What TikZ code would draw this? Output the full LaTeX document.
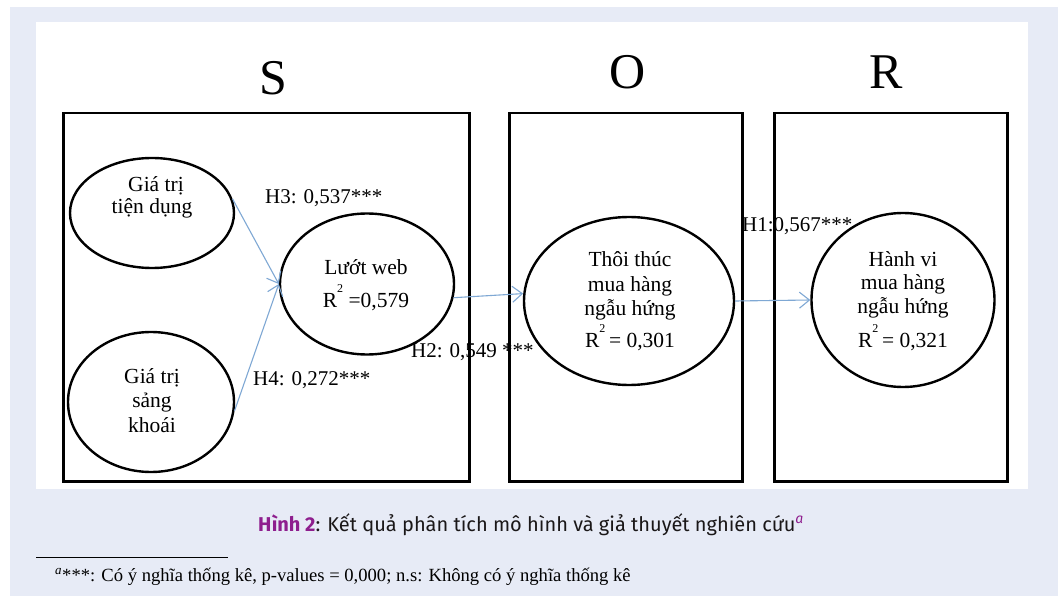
\documentclass[tikz,border=0pt]{standalone}
\usepackage{fontspec}
\setmainfont{Liberation Serif}
\newfontfamily\capfont{Fira Sans}
\usetikzlibrary{shapes.geometric,arrows.meta}
\definecolor{bgblue}{HTML}{E7EBF6}
\definecolor{arrowblue}{HTML}{7FA8D4}
\definecolor{capurple}{HTML}{8E1E8E}
\definecolor{captext}{HTML}{1A1718}
\newcommand{\sqtwo}{\raisebox{15pt}{\fontsize{12}{12}\selectfont 2}}
\begin{document}
\begin{tikzpicture}[x=1pt,y=-1pt,
  frame/.style={draw=black,line width=2.5pt,inner sep=0pt,anchor=north west},
  oval/.style={draw=black,line width=2.4pt,ellipse,inner sep=0pt},
  lbl/.style={font=\fontsize{21.5}{24}\selectfont,inner sep=0pt,anchor=base},
  big/.style={font=\fontsize{50}{50}\selectfont,inner sep=0pt,anchor=base},
  link/.style={draw=arrowblue,line width=1.1pt,-{Straight Barb[length=10pt,width=16pt]}},
  coef/.style={font=\fontsize{21}{24}\selectfont,inner sep=0pt,anchor=base west}]
\useasboundingbox (0,0) rectangle (1058,596);
\fill[bgblue] (10,7) rectangle (1058,596);
\fill[white] (36,22) rectangle (1028,489);
% group letters
\node[big] (S) at (273,95) {S};
\node[big] (O) at (628,89) {O};
\node[big] (R) at (886,89) {R};
% frames
\node[frame,minimum width=406,minimum height=368] (boxS) at (62,112) {};
\node[frame,minimum width=233,minimum height=368] (boxO) at (508,112) {};
\node[frame,minimum width=233,minimum height=368] (boxR) at (773,112) {};
% ellipses
\node[oval,minimum width=164,minimum height=110] (e1) at (152,213) {};
\node[oval,minimum width=166,minimum height=140] (e2) at (151,402) {};
\node[oval,minimum width=174,minimum height=141] (e3) at (367,284) {};
\node[oval,minimum width=210,minimum height=168] (e4) at (629,301) {};
\node[oval,minimum width=183,minimum height=174] (e5) at (903,300) {};
% texts in ellipses
\node[lbl] (t1a) at (156,192) {Giá trị};
\node[lbl] (t1b) at (152,214) {tiện dụng};
\node[lbl] (t2a) at (152,383) {Giá trị};
\node[lbl] (t2b) at (152,407) {sảng};
\node[lbl] (t2c) at (152,432) {khoái};
\node[lbl] (t3a) at (366,275) {Lướt web};
\node[lbl] (t3b) at (366,308) {R\sqtwo\ =0,579};
\node[lbl] (t4a) at (630,267) {Thôi thúc};
\node[lbl] (t4b) at (630,291) {mua hàng};
\node[lbl] (t4c) at (630,315) {ngẫu hứng};
\node[lbl] (t4d) at (630,347) {R\sqtwo\,= 0,301};
\node[lbl] (t5a) at (903,267) {Hành vi};
\node[lbl] (t5b) at (903,290) {mua hàng};
\node[lbl] (t5c) at (903,313) {ngẫu hứng};
\node[lbl] (t5d) at (903,347) {R\sqtwo\,= 0,321};
% coefficients
\node[coef] (h3) at (265,204) {H3: 0,537***};
\node[coef] (h4) at (253,385) {H4: 0,272***};
\node[coef] (h2) at (411,357) {H2: 0,549 ***};
\node[coef] (h1) at (742,232) {H1:0,567***};
% arrows
\draw[link] (e1.10) -- (e3.west);
\draw[link] (e2.-6) -- (e3.west);
\draw[link] (e3.-9) -- (e4.176);
\draw[link] (e4.east) -- (e5.west);
% caption
\node[inner sep=0pt,anchor=base,font=\capfont\fontsize{20}{22}\selectfont,text=captext] (cap) at (531,531)
  {\textcolor{capurple}{\bfseries Hình 2}: Kết quả phân tích mô hình và giả thuyết nghiên cứu\textsuperscript{\textcolor{capurple}{\itshape a}}};
% footnote
\coordinate (fl1) at (36,557);
\coordinate (fl2) at (228,557);
\draw[line width=0.8pt,black] (fl1) -- (fl2);
\node[inner sep=0pt,anchor=base west,font=\fontsize{18.6}{20}\selectfont] (fn) at (55,581)
  {\textsuperscript{\itshape a}***: Có ý nghĩa thống kê, p-values = 0,000; n.s: Không có ý nghĩa thống kê};
\end{tikzpicture}
\end{document}
